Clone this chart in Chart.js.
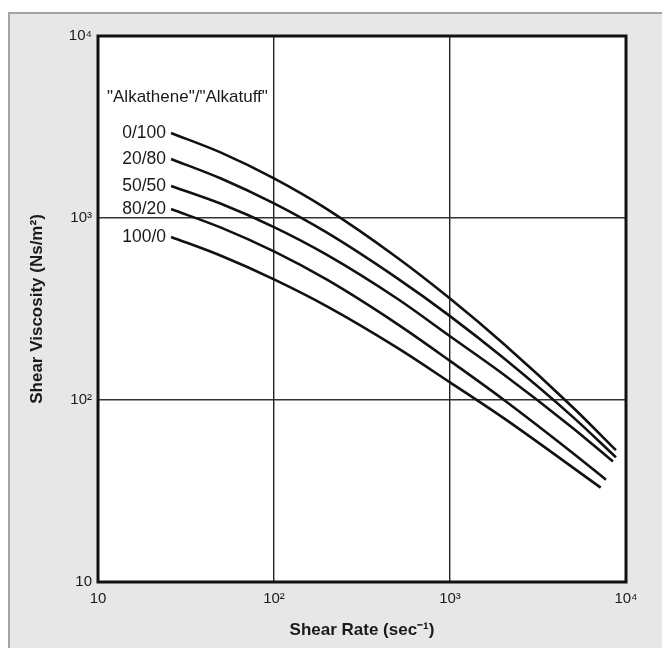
<!DOCTYPE html>
<html>
<head>
<meta charset="utf-8">
<script src="https://cdn.jsdelivr.net/npm/chart.js@4"></script>
<style>
  body { margin: 0; background: #fff; }
  #paper {
    position: absolute; left: 8px; top: 12px; right: 0; bottom: 0;
    border-left: 2px solid #a4a4a4; border-top: 2px solid #a4a4a4;
    background: #e7e7e7;
  }
  #wrap { position: absolute; left: 0; top: 0; width: 662px; height: 648px; }
</style>
</head>
<body>
<div id="paper"></div>
<div id="wrap"><canvas id="myChart" width="662" height="648"></canvas></div>
<script>
// Blend ratios ("Alkathene"/"Alkatuff")
const blendLabels = ['0/100', '20/80', '50/50', '80/20', '100/0'];

// Shear rate (sec^-1) and shear viscosity (Ns/m2)
const rate_0_100 = [26, 50, 100, 200, 500, 1000, 2000, 5000, 8770];
const visc_0_100 = [2930, 2286, 1650, 1119, 607, 361, 205, 91, 53];

const rate_20_80 = [26, 50, 100, 200, 500, 1000, 2000, 5000, 8770];
const visc_20_80 = [2110, 1648, 1202, 830, 467, 289, 171, 80.5, 48.4];

const rate_50_50 = [26, 50, 100, 200, 500, 1000, 2000, 5000, 8430];
const visc_50_50 = [1500, 1197, 891, 627, 361, 224, 139, 70, 45.9];

const rate_80_20 = [26, 50, 100, 200, 500, 1000, 2000, 5000, 7690];
const visc_80_20 = [1120, 885, 655, 458, 262, 164, 101, 51, 36.5];

const rate_100_0 = [26, 50, 100, 200, 500, 1000, 2000, 7180];
const visc_100_0 = [787, 620, 460, 327, 194, 125, 80, 33];

// Decade ticks on both axes
const decadeTicks = [10, 100, 1000, 10000];
const decadeLabels = ['10', '10\u00b2', '10\u00b3', '10\u2074'];

const seriesRates = [rate_0_100, rate_20_80, rate_50_50, rate_80_20, rate_100_0];
const seriesVisc = [visc_0_100, visc_20_80, visc_50_50, visc_80_20, visc_100_0];

function toPoints(xs, ys) {
  return xs.map((x, i) => ({ x: x, y: ys[i] }));
}

// White plot area, thick frame, curve labels and the header text
const framePlugin = {
  id: 'frame',
  beforeDraw(chart) {
    const { ctx, chartArea: a } = chart;
    ctx.save();
    ctx.fillStyle = '#fff';
    ctx.fillRect(a.left, a.top, a.right - a.left, a.bottom - a.top);
    ctx.restore();
  },
  afterDraw(chart) {
    const { ctx, chartArea: a } = chart;
    ctx.save();
    ctx.strokeStyle = '#111';
    ctx.lineWidth = 3;
    ctx.strokeRect(a.left, a.top, a.right - a.left, a.bottom - a.top);

    ctx.fillStyle = '#1a1a1a';
    ctx.font = '17px "Liberation Sans", Arial, sans-serif';
    ctx.textBaseline = 'middle';
    ctx.textAlign = 'left';
    ctx.fillText('"Alkathene"/"Alkatuff"', a.left + 9, a.top + 61);

    // label each curve just left of its first point
    ctx.font = '17.5px "Liberation Sans", Arial, sans-serif';
    ctx.textAlign = 'right';
    chart.data.datasets.forEach((ds, i) => {
      const pt = chart.getDatasetMeta(i).data[0];
      ctx.fillText(ds.label, pt.x - 5, pt.y);
    });
    ctx.restore();
  }
};

function renderChart() {
  const ctx = document.getElementById('myChart').getContext('2d');
  const tickFont = { family: '"Liberation Sans", Arial, sans-serif', size: 15 };
  const titleFont = { family: '"Liberation Sans", Arial, sans-serif', size: 17, weight: 'bold' };

  new Chart(ctx, {
    type: 'line',
    data: {
      datasets: blendLabels.map((label, i) => ({
        label: label,
        data: toPoints(seriesRates[i], seriesVisc[i]),
        borderColor: '#111',
        borderWidth: 2.6,
        pointRadius: 0,
        fill: false,
        cubicInterpolationMode: 'monotone'
      }))
    },
    options: {
      responsive: false,
      animation: false,
      layout: { padding: { left: 10, right: 36, top: 36, bottom: 0 } },
      plugins: {
        legend: { display: false },
        tooltip: { enabled: false }
      },
      scales: {
        x: {
          type: 'logarithmic',
          min: 10,
          max: 10000,
          afterBuildTicks: (scale) => { scale.ticks = decadeTicks.map(v => ({ value: v })); },
          afterFit: (scale) => { scale.height = 66; },
          ticks: {
            color: '#1a1a1a',
            font: tickFont,
            padding: 8,
            maxRotation: 0,
            autoSkip: false,
            callback: (v) => decadeLabels[decadeTicks.indexOf(v)]
          },
          grid: { color: '#222', lineWidth: 1.4, drawTicks: false },
          border: { display: false },
          title: {
            display: true,
            text: 'Shear Rate (sec\u207b\u00b9)',
            color: '#1a1a1a',
            font: titleFont,
            padding: { top: 0, bottom: 7 }
          }
        },
        y: {
          type: 'logarithmic',
          min: 10,
          max: 10000,
          afterBuildTicks: (scale) => { scale.ticks = decadeTicks.map(v => ({ value: v })); },
          afterFit: (scale) => { scale.width = 88; },
          ticks: {
            color: '#1a1a1a',
            font: tickFont,
            padding: 6,
            autoSkip: false,
            callback: (v) => decadeLabels[decadeTicks.indexOf(v)]
          },
          grid: { color: '#333', lineWidth: 1.4, drawTicks: false },
          border: { display: false },
          title: {
            display: true,
            text: 'Shear Viscosity (Ns/m\u00b2)',
            color: '#1a1a1a',
            font: titleFont,
            padding: { top: 17, bottom: 0 }
          }
        }
      }
    },
    plugins: [framePlugin]
  });
}

document.addEventListener('DOMContentLoaded', renderChart);
</script>
</body>
</html>
